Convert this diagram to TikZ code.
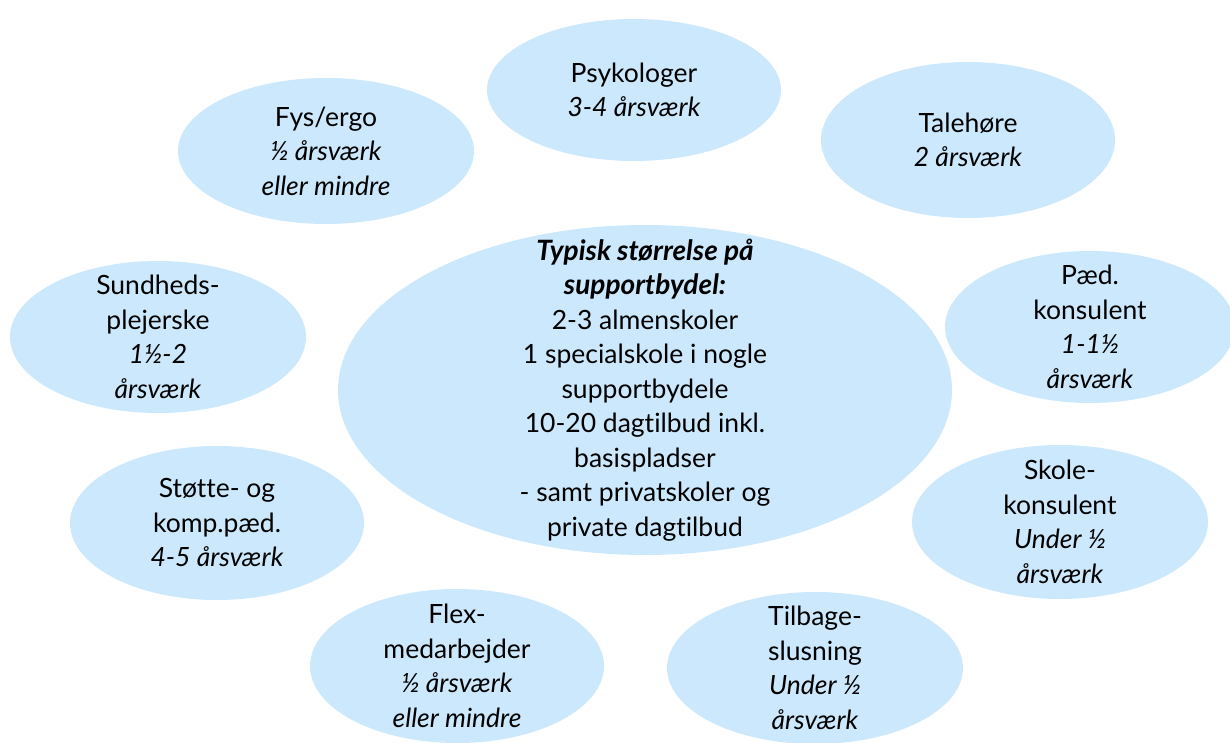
\documentclass[tikz,border=0pt]{standalone}
\usepackage{fontspec}
\setmainfont{Lato}[Ligatures=NoCommon]
\usetikzlibrary{shapes.geometric}
\definecolor{bubble}{RGB}{204,232,252}
\tikzset{
  bub/.style={ellipse, fill=bubble, draw=none, inner sep=0pt},
  txt/.style={align=center, inner sep=0pt, font=\fontsize{26.5}{34.5}\selectfont, text=black},
}
\begin{document}
\begin{tikzpicture}[x=1pt,y=-1pt]
\useasboundingbox (0,0) rectangle (1230,743);
\clip (0,0) rectangle (1230,743);
% bubbles
\node[bub, minimum width=294, minimum height=142] (psy) at (634,90) {};
\node[bub, minimum width=294, minimum height=156] (tal) at (968,140) {};
\node[bub, minimum width=296, minimum height=146] (fys) at (326,151) {};
\node[bub, minimum width=614, minimum height=330] (mid) at (645,390) {};
\node[bub, minimum width=296, minimum height=152] (sun) at (158,337) {};
\node[bub, minimum width=290, minimum height=152] (paed) at (1090,327) {};
\node[bub, minimum width=296, minimum height=154] (sko) at (1060,522) {};
\node[bub, minimum width=294, minimum height=154] (sto) at (217,523) {};
\node[bub, minimum width=294, minimum height=154] (flex) at (457,666) {};
\node[bub, minimum width=296, minimum height=152] (til) at (815,668) {};
% texts
\node[txt] (psyt) at (psy) {Psykologer\\\textit{3-4 årsværk}};
\node[txt] (talt) at (tal) {Talehøre\\\textit{2 årsværk}};
\node[txt] (fyst) at (fys) {Fys/ergo\\\textit{½ årsværk}\\\textit{eller mindre}};
\node[txt] (midt) at (mid) {{\fontsize{28}{34.5}\selectfont\textbf{\textit{Typisk størrelse på}}}\\{\fontsize{28}{34.5}\selectfont\textbf{\textit{supportbydel:}}}\\2-3 almenskoler\\1 specialskole i nogle\\supportbydele\\10-20 dagtilbud inkl.\\basispladser\\- samt privatskoler og\\private dagtilbud};
\node[txt] (sunt) at (sun) {Sundheds-\\plejerske\\\textit{1½-2}\\\textit{årsværk}};
\node[txt] (paedt) at (paed) {Pæd.\\konsulent\\\textit{1-1½}\\\textit{årsværk}};
\node[txt] (skot) at (sko) {Skole-\\konsulent\\\textit{Under ½}\\\textit{årsværk}};
\node[txt] (stot) at (sto) {Støtte- og\\komp.pæd.\\\textit{4-5 årsværk}};
\node[txt] (flext) at (flex) {Flex-\\medarbejder\\\textit{½ årsværk}\\\textit{eller mindre}};
\node[txt] (tilt) at (til) {Tilbage-\\slusning\\\textit{Under ½}\\\textit{årsværk}};
\end{tikzpicture}
\end{document}
